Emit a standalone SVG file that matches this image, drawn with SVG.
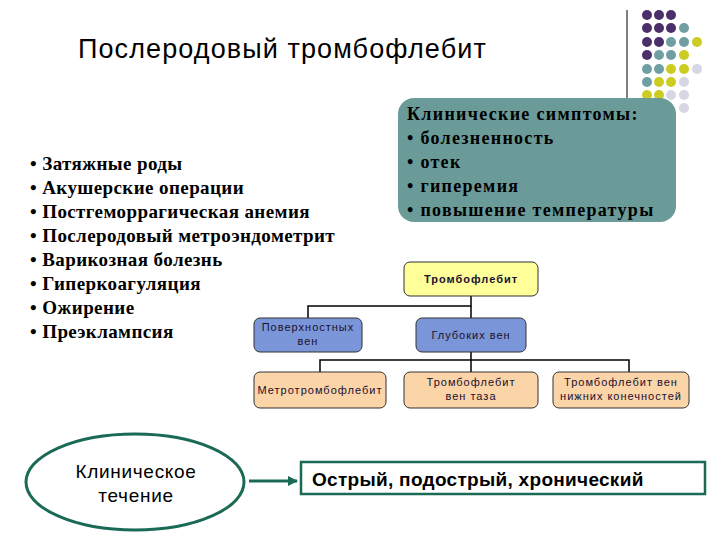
<svg xmlns="http://www.w3.org/2000/svg" width="720" height="540" viewBox="0 0 720 540">
<defs>
<style>
.s{font-family:"Liberation Serif",serif;font-size:19px;font-weight:bold;fill:#000;letter-spacing:0.4px}
.c{font-family:"Liberation Serif",serif;font-size:18px;font-weight:bold;fill:#000;letter-spacing:1.3px}
.n{font-family:"Liberation Sans",sans-serif;font-size:11px;fill:#1a1030;text-anchor:middle;letter-spacing:1px}
.y{fill:#ffff99;stroke:#333;stroke-width:1}
.b{fill:#7b96d8;stroke:#333;stroke-width:1}
.o{fill:#fbd4a8;stroke:#333;stroke-width:1}
.P{fill:#4a2f6a}.T{fill:#6f9fa3}.Y{fill:#cccc22}.L{fill:#d6d6e4}
</style>
<marker id="ar" markerWidth="10" markerHeight="10" refX="9" refY="5" orient="auto" markerUnits="userSpaceOnUse"><path d="M0,0 L10,5 L0,10 z" fill="#1a6a55"/></marker>
</defs>
<rect width="720" height="540" fill="#fff"/>
<line x1="627" y1="10" x2="627" y2="100" stroke="#000" stroke-width="1"/>
<g id="dots">
<circle class="P" cx="647" cy="15" r="5"/><circle class="P" cx="659" cy="15" r="5"/><circle class="P" cx="671" cy="15" r="5"/>
<circle class="P" cx="647" cy="28" r="5"/><circle class="P" cx="659" cy="28" r="5"/><circle class="P" cx="671" cy="28" r="5"/><circle class="T" cx="684" cy="28" r="5"/>
<circle class="P" cx="647" cy="42" r="5"/><circle class="P" cx="659" cy="42" r="5"/><circle class="T" cx="671" cy="42" r="5"/><circle class="T" cx="684" cy="42" r="5"/><circle class="Y" cx="697" cy="42" r="5"/>
<circle class="P" cx="647" cy="55" r="5"/><circle class="T" cx="659" cy="55" r="5"/><circle class="T" cx="671" cy="55" r="5"/><circle class="Y" cx="684" cy="55" r="5"/>
<circle class="T" cx="647" cy="69" r="5"/><circle class="T" cx="659" cy="69" r="5"/><circle class="Y" cx="671" cy="69" r="5"/><circle class="Y" cx="684" cy="69" r="5"/><circle class="L" cx="697" cy="69" r="5"/>
<circle class="T" cx="647" cy="82" r="5"/><circle class="Y" cx="659" cy="82" r="5"/><circle class="Y" cx="671" cy="82" r="5"/><circle class="L" cx="684" cy="82" r="5"/>
<circle class="Y" cx="647" cy="95" r="5"/><circle class="Y" cx="659" cy="95" r="5"/><circle class="L" cx="671" cy="95" r="5"/><circle class="L" cx="684" cy="95" r="5"/>
<circle class="L" cx="684" cy="108" r="5"/>
</g>
<text x="78" y="58" font-family="Liberation Sans,sans-serif" font-size="27" letter-spacing="1.1" fill="#000">Послеродовый тромбофлебит</text>
<g id="risks">
<text class="s" x="30" y="170">• Затяжные роды</text>
<text class="s" x="30" y="194">• Акушерские операции</text>
<text class="s" x="30" y="218">• Постгеморрагическая анемия</text>
<text class="s" x="30" y="242">• Послеродовый метроэндометрит</text>
<text class="s" x="30" y="266">• Варикозная болезнь</text>
<text class="s" x="30" y="290">• Гиперкоагуляция</text>
<text class="s" x="30" y="314">• Ожирение</text>
<text class="s" x="30" y="338">• Преэклампсия</text>
</g>
<g id="symptoms">
<rect x="398" y="98" width="278" height="124" rx="16" fill="#6a9b98"/>
<text class="c" x="407" y="120">Клинические симптомы:</text>
<text class="c" x="407" y="144">• болезненность</text>
<text class="c" x="407" y="168">• отек</text>
<text class="c" x="407" y="192">• гиперемия</text>
<text class="c" x="407" y="216">• повышение температуры</text>
</g>
<g id="connectors" stroke="#000" stroke-width="1.5" fill="none">
<path d="M471,296 V306 H308 V318"/>
<path d="M471,306 V318"/>
<path d="M471,352 V360 H320 V372"/>
<path d="M471,360 V372 M471,360 H629 V372"/>
</g>
<g id="n1"><rect class="y" x="404" y="262" width="134" height="34" rx="6"/><text class="n" x="471" y="283" font-weight="bold" letter-spacing="0.5">Тромбофлебит</text></g>
<g id="n2"><rect class="b" x="254" y="318" width="108" height="34" rx="6"/><text class="n" x="308" y="331" letter-spacing="0.3">Поверхностных</text><text class="n" x="308" y="345">вен</text></g>
<g id="n3"><rect class="b" x="416" y="318" width="110" height="34" rx="6"/><text class="n" x="471" y="339">Глубоких вен</text></g>
<g id="n4"><rect class="o" x="254" y="372" width="132" height="36" rx="6"/><text class="n" x="320" y="394">Метротромбофлебит</text></g>
<g id="n5"><rect class="o" x="404" y="372" width="134" height="36" rx="6"/><text class="n" x="471" y="386">Тромбофлебит</text><text class="n" x="471" y="400">вен таза</text></g>
<g id="n6"><rect class="o" x="553" y="372" width="136" height="36" rx="6"/><text class="n" x="621" y="386" letter-spacing="0.5">Тромбофлебит вен</text><text class="n" x="621" y="400" letter-spacing="0.5">нижних конечностей</text></g>
<g id="course">
<ellipse cx="135" cy="482" rx="109" ry="48" fill="#fff" stroke="#1a6a55" stroke-width="3"/>
<text x="136" y="478" font-family="Liberation Sans,sans-serif" font-size="19" letter-spacing="0.7" text-anchor="middle">Клиническое</text>
<text x="136" y="502" font-family="Liberation Sans,sans-serif" font-size="19" letter-spacing="0.7" text-anchor="middle">течение</text>
</g>
<g id="arrow"><line x1="249" y1="481" x2="297" y2="481" stroke="#1a6a55" stroke-width="3" marker-end="url(#ar)"/></g>
<g id="forms">
<rect x="301" y="462" width="404" height="32" fill="#fff" stroke="#1a6a55" stroke-width="2.5"/>
<text x="312" y="486" font-family="Liberation Sans,sans-serif" font-size="19" font-weight="bold" letter-spacing="0.3">Острый, подострый, хронический</text>
</g>
</svg>
